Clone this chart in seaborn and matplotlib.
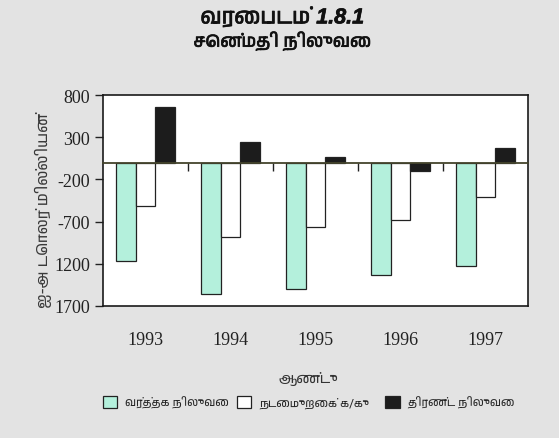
import numpy as np
import pandas as pd
import matplotlib
matplotlib.use("Agg")
import matplotlib.pyplot as plt
import matplotlib.patheffects as pe
from matplotlib import font_manager as fm
import seaborn as sns

# ---------------- data ----------------
years = ["1993", "1994", "1995", "1996", "1997"]
series_names = ["வர்த்தக நிலுவை", "நடைமுறைக் க/கு", "திரண்ட நிலுவை"]
trade_balance = [-1165, -1565, -1505, -1335, -1225]
current_account = [-510, -885, -760, -680, -405]
overall_balance = [665, 240, 70, -95, 170]
ytick_values = [800, 300, -200, -700, -1200, -1700]
ytick_labels = ["800", "300", "-200", "-700", "1200", "1700"]
title_lines = ["வரைபடம் 1.8.1", "சென்மதி நிலுவை"]
ylabel_text = "ஐ-அ டொலர் மில்லியன்"
xlabel_text = "ஆண்டு"

colors = ["#b4f0dc", "#ffffff", "#1c1c1c"]


# ---------------- fonts ----------------
def find_tamil_fonts():
    found = []
    try:
        from fontTools.ttLib import TTFont
    except Exception:
        return found
    for fe in fm.fontManager.ttflist:
        if fe.name in found or "CJK" in fe.name:
            continue
        try:
            tt = TTFont(fe.fname, fontNumber=0, lazy=True)
            cmap = tt.getBestCmap()
            if cmap and 0x0BB5 in cmap:
                found.append(fe.name)
        except Exception:
            pass

    def rank(n):
        score = 0
        if "Tamil" in n:
            score -= 10
        if "Mono" in n:
            score += 5
        return score

    return sorted(found, key=rank)


tamil_family = find_tamil_fonts() + ["DejaVu Sans"]
serif_family = ["Liberation Serif", "DejaVu Serif"]
title_family = ["Liberation Sans"] + tamil_family

# ---------------- frame ----------------
df = pd.DataFrame({
    "year": years * 3,
    "series": [series_names[0]] * len(years) + [series_names[1]] * len(years)
              + [series_names[2]] * len(years),
    "value": trade_balance + current_account + overall_balance,
})

sns.set_style("white")
plt.rcParams["font.family"] = tamil_family

fig = plt.figure(figsize=(5.59, 4.39), dpi=100)
fig.patch.set_facecolor("#e3e3e3")
ax = fig.add_axes([0.184, 0.301, 0.761, 0.480])
ax.set_facecolor("white")

sns.barplot(
    data=df, x="year", y="value", hue="series", hue_order=series_names,
    order=years, palette=dict(zip(series_names, colors)), saturation=1,
    width=0.69, gap=0, edgecolor="#222222", linewidth=0.9, ax=ax,
)

handles, labels = ax.get_legend_handles_labels()
if ax.get_legend() is not None:
    ax.get_legend().remove()

ax.set_ylim(ytick_values[-1], ytick_values[0])
ax.set_yticks(ytick_values)
ax.set_yticklabels(ytick_labels, family=serif_family, fontsize=13)
ax.set_xticks(range(len(years)))
ax.set_xticklabels(years, family=serif_family, fontsize=13)
ax.tick_params(axis="x", length=0, pad=18, colors="#222222")
ax.tick_params(axis="y", length=6, width=1, direction="out", pad=3,
               colors="#222222", left=True)
ax.set_xlabel("")
ax.set_ylabel("")
for sp in ax.spines.values():
    sp.set_visible(True)
    sp.set_color("#1a1a1a")
    sp.set_linewidth(1.2)

# zero line with category boundary ticks
sec = ax.secondary_xaxis(0, transform=ax.transData)
sec.set_alignment("bottom")
sec.set_xticks(np.arange(len(years) - 1) + 0.5)
sec.set_xticklabels([])
sec.tick_params(length=6, width=1, color="#222222", direction="out")
sec.spines["bottom"].set_color("#44442c")
sec.spines["bottom"].set_linewidth(1.3)
sec.set_zorder(5)

# titles and labels
bold = [pe.withStroke(linewidth=0.5, foreground="#111111")]
fig.text(0.505, 0.957, title_lines[0], ha="center", va="center",
         fontsize=15.5, fontweight="bold", fontstyle="italic",
         family=title_family, color="#111111", path_effects=bold)
fig.text(0.505, 0.904, title_lines[1], ha="center", va="center",
         fontsize=12.5, fontweight="bold", fontstyle="italic",
         family=title_family, color="#111111", path_effects=bold)
fig.text(0.077, 0.52, ylabel_text, rotation=90, ha="center", va="center",
         fontsize=11, family=tamil_family, color="#3a3a3a")
fig.text(0.551, 0.136, xlabel_text, ha="center", va="center",
         fontsize=10, family=tamil_family, color="#333333")

# legend: one entry per anchor, as in the reference
legend_x = [0.184, 0.424, 0.689]
for h, lab, lx in zip(handles, labels, legend_x):
    leg = fig.legend([h], [lab], loc="center left", bbox_to_anchor=(lx, 0.082),
                     frameon=False, handlelength=1.3, handleheight=1.3,
                     handletextpad=0.7, borderpad=0, borderaxespad=0,
                     prop={"family": tamil_family, "size": 8})

fig.savefig("out.png", dpi=100, facecolor=fig.get_facecolor())
